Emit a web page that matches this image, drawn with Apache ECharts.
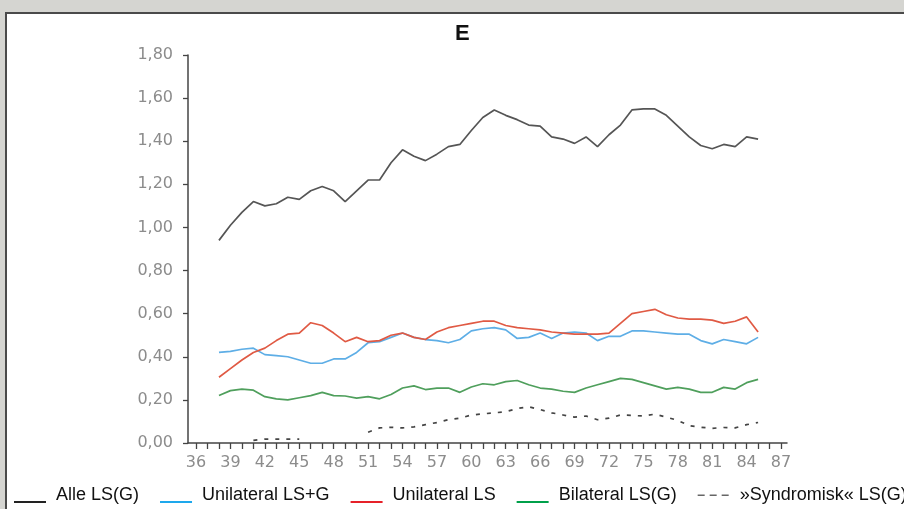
<!DOCTYPE html>
<html>
<head>
<meta charset="utf-8">
<script src="https://cdn.jsdelivr.net/npm/echarts@6/dist/echarts.min.js"></script>
<style>
  html, body { margin: 0; padding: 0; width: 904px; height: 509px; overflow: hidden; background: #d5d5d1; }
  #panel { position: absolute; left: 5px; top: 12px; width: 899px; height: 497px; background: #fff;
           border-left: 2px solid #4a4a4a; border-top: 2px solid #4a4a4a; box-sizing: border-box; }
  #chart { position: absolute; left: 0; top: 0; width: 904px; height: 509px; }
</style>
</head>
<body>
<div id="panel"></div>
<div id="chart"></div>
<script>
// Years on the horizontal axis (one point per year)
const years = [38, 39, 40, 41, 42, 43, 44, 45, 46, 47, 48, 49, 50, 51, 52, 53, 54, 55, 56, 57, 58, 59, 60, 61,
               62, 63, 64, 65, 66, 67, 68, 69, 70, 71, 72, 73, 74, 75, 76, 77, 78, 79, 80, 81, 82, 83, 84, 85];

// Series values
const alleLS = [0.94, 1.01, 1.07, 1.12, 1.10, 1.11, 1.14, 1.13, 1.17, 1.19, 1.17, 1.12, 1.17, 1.22, 1.22, 1.30,
                1.36, 1.33, 1.31, 1.34, 1.375, 1.385, 1.45, 1.51, 1.545, 1.52, 1.50, 1.475, 1.47, 1.42, 1.41, 1.39,
                1.42, 1.375, 1.43, 1.475, 1.545, 1.55, 1.55, 1.52, 1.47, 1.42, 1.38, 1.365, 1.385, 1.375, 1.42, 1.41];
const unilateralLSG = [0.42, 0.425, 0.435, 0.44, 0.41, 0.405, 0.40, 0.385, 0.37, 0.37, 0.39, 0.39, 0.42, 0.465, 0.47, 0.49,
                       0.51, 0.49, 0.48, 0.475, 0.465, 0.48, 0.52, 0.53, 0.535, 0.525, 0.485, 0.49, 0.51, 0.485, 0.51, 0.515,
                       0.51, 0.475, 0.495, 0.495, 0.52, 0.52, 0.515, 0.51, 0.505, 0.505, 0.475, 0.46, 0.48, 0.47, 0.46, 0.49];
const unilateralLS = [0.305, 0.345, 0.385, 0.42, 0.44, 0.475, 0.505, 0.51, 0.558, 0.545, 0.51, 0.47, 0.49, 0.47, 0.475, 0.50,
                      0.51, 0.49, 0.48, 0.515, 0.535, 0.545, 0.555, 0.565, 0.565, 0.545, 0.535, 0.53, 0.525, 0.515, 0.51, 0.505,
                      0.505, 0.505, 0.51, 0.555, 0.60, 0.61, 0.62, 0.595, 0.58, 0.575, 0.575, 0.57, 0.555, 0.565, 0.585, 0.515];
const bilateralLS = [0.22, 0.243, 0.25, 0.245, 0.215, 0.205, 0.20, 0.21, 0.22, 0.235, 0.22, 0.218, 0.208, 0.215, 0.205, 0.225,
                     0.255, 0.265, 0.248, 0.255, 0.255, 0.235, 0.26, 0.275, 0.27, 0.285, 0.29, 0.27, 0.255, 0.25, 0.24, 0.235,
                     0.255, 0.27, 0.285, 0.30, 0.295, 0.28, 0.265, 0.25, 0.258, 0.25, 0.235, 0.235, 0.258, 0.25, 0.28, 0.295];
const syndromiskLS = [null, null, null, 0.012, 0.018, 0.018, 0.018, 0.018, null, null, null, null, null, 0.05, 0.07, 0.073,
                      0.07, 0.075, 0.085, 0.095, 0.108, 0.115, 0.13, 0.135, 0.14, 0.145, 0.16, 0.168, 0.155, 0.14, 0.13, 0.12,
                      0.125, 0.108, 0.115, 0.13, 0.128, 0.125, 0.134, 0.12, 0.105, 0.08, 0.073, 0.068, 0.072, 0.07, 0.085, 0.095];

// Axis ticks and labels
const tickYears = [36, 37, 38, 39, 40, 41, 42, 43, 44, 45, 46, 47, 48, 49, 50, 51, 52, 53, 54, 55, 56, 57, 58, 59, 60, 61,
                   62, 63, 64, 65, 66, 67, 68, 69, 70, 71, 72, 73, 74, 75, 76, 77, 78, 79, 80, 81, 82, 83, 84, 85, 86, 87];
const labelYears = [36, 39, 42, 45, 48, 51, 54, 57, 60, 63, 66, 69, 72, 75, 78, 81, 84, 87];

const seriesNames = ['Alle LS(G)', 'Unilateral LS+G', 'Unilateral LS', 'Bilateral LS(G)', '»Syndromisk« LS(G)'];
const lineColors = ['#555555', '#5eaee6', '#e05a44', '#4f9f5c', '#444444'];
const keyColors = ['#222222', '#1ea8ec', '#e62129', '#00a04a', '#666666'];

const pairs = vals => years.map((y, i) => [y, vals[i]]);

// Legend keys: a bar at the text baseline, or three short dashes for the dashed series
const solidKey = 'path://M0,0 M37,0 M0,14 L32,14 L32,16 L0,16 Z';
const dashKey = 'path://M0,0 M37,16 M0,7.5 L7,7.5 L7,9 L0,9 Z M12,7.5 L19,7.5 L19,9 L12,9 Z M24,7.5 L31,7.5 L31,9 L24,9 Z';

const chart = echarts.init(document.getElementById('chart'), null, { renderer: 'canvas' });

const lineSeries = (name, vals, color, extra) => Object.assign({
  name: name,
  type: 'line',
  data: pairs(vals),
  showSymbol: false,
  symbol: 'none',
  connectNulls: false,
  lineStyle: { color: color, width: 1.7 },
  itemStyle: { color: color },
  animation: false
}, extra || {});

chart.setOption({
  backgroundColor: 'transparent',
  animation: false,
  title: {
    text: 'E',
    left: 455,
    top: 23,
    padding: 0,
    textStyle: { fontFamily: 'Liberation Sans, Arial, sans-serif', fontSize: 22, fontWeight: 'bold', color: '#111' }
  },
  grid: { left: 188, top: 55, width: 599, height: 388 },
  xAxis: {
    type: 'value',
    min: 35.3,
    max: 87.52,
    axisLine: { show: true, lineStyle: { color: '#444', width: 1.5 } },
    axisTick: { show: true, customValues: tickYears, length: 6, lineStyle: { color: '#444', width: 1.3 } },
    axisLabel: {
      customValues: labelYears,
      margin: 12,
      color: '#8c8c8c',
      fontFamily: 'DejaVu Sans, sans-serif',
      fontSize: 16
    },
    splitLine: { show: false }
  },
  yAxis: {
    type: 'value',
    min: 0,
    max: 1.8,
    interval: 0.2,
    axisLine: { show: true, lineStyle: { color: '#444', width: 1.5 } },
    axisTick: { show: true, length: 5, lineStyle: { color: '#444', width: 1.3 } },
    axisLabel: {
      margin: 15,
      color: '#8c8c8c',
      fontFamily: 'DejaVu Sans, sans-serif',
      fontSize: 16,
      formatter: v => v.toFixed(2).replace('.', ',')
    },
    splitLine: { show: false }
  },
  legend: {
    left: 14,
    top: 486,
    width: 1400,
    padding: 0,
    orient: 'horizontal',
    itemWidth: 37,
    itemHeight: 16,
    itemGap: 21,
    textStyle: { fontFamily: 'Liberation Sans, Arial, sans-serif', fontSize: 18, color: '#111' },
    data: seriesNames.map((n, i) => ({
      name: n,
      icon: i === 4 ? dashKey : solidKey,
      itemStyle: { color: keyColors[i], borderWidth: 0 }
    }))
  },
  series: [
    lineSeries(seriesNames[0], alleLS, lineColors[0]),
    lineSeries(seriesNames[1], unilateralLSG, lineColors[1]),
    lineSeries(seriesNames[2], unilateralLS, lineColors[2]),
    lineSeries(seriesNames[3], bilateralLS, lineColors[3]),
    lineSeries(seriesNames[4], syndromiskLS, lineColors[4], {
      lineStyle: { color: lineColors[4], width: 1.7, type: [4, 7] }
    })
  ]
});
</script>
</body>
</html>
